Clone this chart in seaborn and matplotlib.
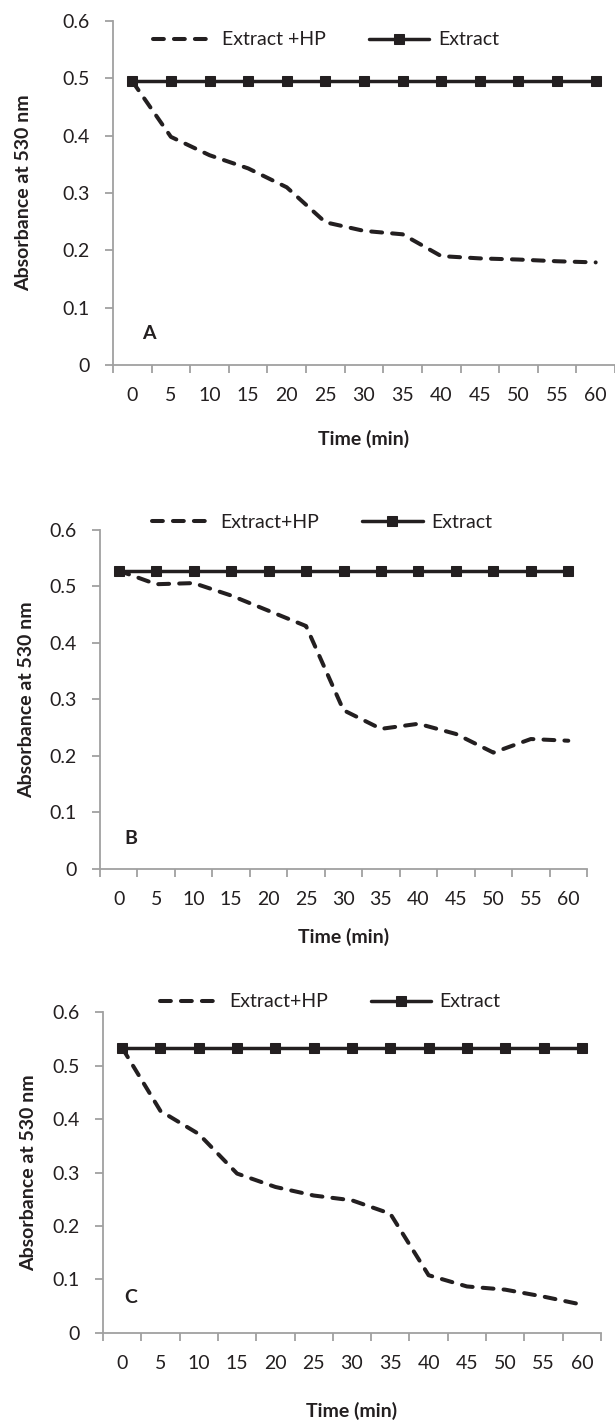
# Absorbance at 530 nm over time, three panels (A, B, C)
import numpy as np
import pandas as pd
import matplotlib.pyplot as plt
import seaborn as sns

# ---- data ----
time_min = [0, 5, 10, 15, 20, 25, 30, 35, 40, 45, 50, 55, 60]

hp_a = [0.495, 0.398, 0.366, 0.343, 0.310, 0.249, 0.234, 0.228, 0.190, 0.186, 0.184, 0.181, 0.179]
ext_a = [0.495, 0.495, 0.495, 0.495, 0.495, 0.495, 0.495, 0.495, 0.495, 0.495, 0.495, 0.495, 0.495]

hp_b = [0.528, 0.504, 0.506, 0.484, 0.457, 0.430, 0.281, 0.248, 0.257, 0.239, 0.206, 0.230, 0.227]
ext_b = [0.528, 0.528, 0.528, 0.528, 0.528, 0.528, 0.528, 0.528, 0.528, 0.528, 0.528, 0.528, 0.528]

hp_c = [0.533, 0.415, 0.372, 0.298, 0.273, 0.257, 0.248, 0.223, 0.108, 0.087, 0.081, 0.068, 0.053]
ext_c = [0.533, 0.533, 0.533, 0.533, 0.533, 0.533, 0.533, 0.533, 0.533, 0.533, 0.533, 0.533, 0.533]

y_ticks = [0, 0.1, 0.2, 0.3, 0.4, 0.5, 0.6]
y_labels = ['0', '0.1', '0.2', '0.3', '0.4', '0.5', '0.6']

sns.set_style('white')
plt.rcParams['font.family'] = ['Lato', 'DejaVu Sans']

ink = '#231f20'
axis_grey = '#a0a0a0'

fig = plt.figure(figsize=(6.15, 14.22), dpi=100)

# panel settings: axes rect, legend label, legend centre, letter pos, xlabel y, ylabel x
panels = [
    dict(rect=[0.1837, 0.7433, 0.8163, 0.2419], hp=hp_a, ext=ext_a, hp_label='Extract +HP',
         leg=(0.530, 0.9719), letter='A', letter_pos=(0.072, 0.093), xlab_y=-0.215, ylab_x=-0.178),
    dict(rect=[0.1626, 0.3889, 0.7919, 0.2384], hp=hp_b, ext=ext_b, hp_label='Extract+HP',
         leg=(0.5236, 0.6329), letter='B', letter_pos=(0.064, 0.091), xlab_y=-0.200, ylab_x=-0.150),
    dict(rect=[0.1675, 0.0626, 0.8097, 0.2257], hp=hp_c, ext=ext_c, hp_label='Extract+HP',
         leg=(0.537, 0.2954), letter='C', letter_pos=(0.056, 0.109), xlab_y=-0.243, ylab_x=-0.150),
]

for p in panels:
    ax = fig.add_axes(p['rect'])
    df = pd.DataFrame({'Time': time_min, 'HP': p['hp'], 'Extract': p['ext']})

    sns.lineplot(data=df, x='Time', y='HP', ax=ax, color=ink, lw=2.9,
                 label=p['hp_label'])
    hp_line = ax.lines[-1]
    hp_line.set_dashes([2.7, 2.5])
    hp_line.set_dash_capstyle('round')

    sns.lineplot(data=df, x='Time', y='Extract', ax=ax, color=ink, lw=2.5,
                 marker='s', markersize=7.2, markeredgecolor=ink, label='Extract')

    ax.set_xlim(-2.5, 62.5)
    ax.set_ylim(0, 0.6)

    # category-style axis: ticks at boundaries, labels at centres
    ax.set_xticks(np.arange(-2.5, 63, 5))
    ax.set_xticklabels([])
    ax.set_xticks(time_min, minor=True)
    ax.set_xticklabels([str(t) for t in time_min], minor=True)
    ax.tick_params(axis='x', which='major', direction='out', length=6, width=1.3,
                   color=axis_grey, bottom=True)
    ax.tick_params(axis='x', which='minor', length=0, pad=16, labelsize=14, labelcolor=ink)

    ax.set_yticks(y_ticks)
    ax.set_yticklabels(y_labels)
    ax.tick_params(axis='y', direction='out', length=6, width=1.3, color=axis_grey,
                   pad=11, labelsize=14, labelcolor=ink, left=True)

    for side in ['top', 'right']:
        ax.spines[side].set_visible(False)
    for side in ['left', 'bottom']:
        ax.spines[side].set_color(axis_grey)
        ax.spines[side].set_linewidth(1.3)

    ax.set_xlabel('Time (min)', fontsize=14, fontweight='bold', color=ink)
    ax.xaxis.set_label_coords(0.5, p['xlab_y'])
    ax.xaxis.label.set_va('center')
    ax.set_ylabel('Absorbance at 530 nm', fontsize=14, fontweight='bold', color=ink)
    ax.yaxis.set_label_coords(p['ylab_x'], 0.5)
    ax.yaxis.label.set_va('center')

    ax.text(p['letter_pos'][0], p['letter_pos'][1], p['letter'], transform=ax.transAxes,
            fontsize=14, fontweight='bold', color=ink, ha='center', va='center')

    ax.legend(loc='center', bbox_to_anchor=p['leg'], bbox_transform=fig.transFigure,
              ncol=2, frameon=False, fontsize=14, handlelength=3.1,
              handletextpad=0.45, columnspacing=2.2, labelcolor=ink)

fig.savefig('out.png', dpi=100)
